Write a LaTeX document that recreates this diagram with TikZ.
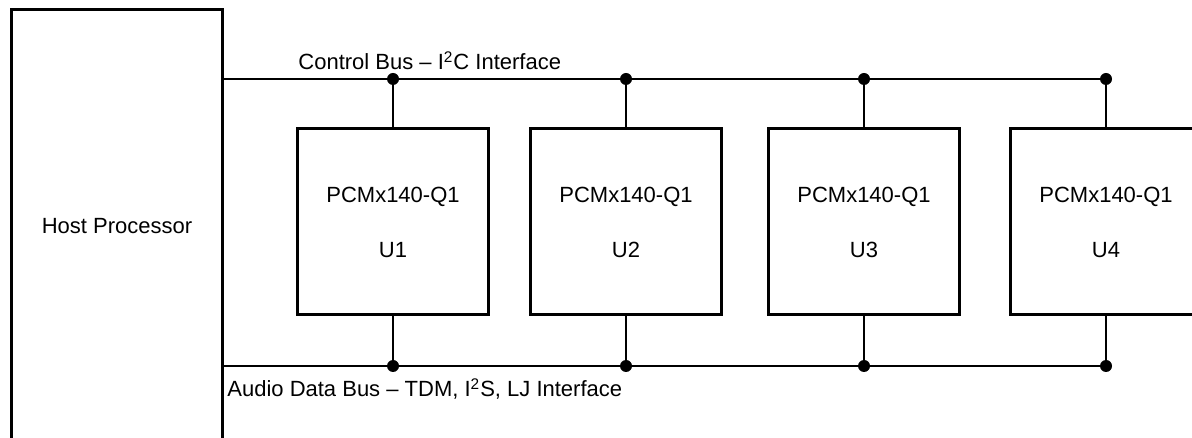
\documentclass[tikz,border=0pt]{standalone}
\usepackage{fontspec}
\setmainfont{Liberation Sans}
\usetikzlibrary{positioning}
\begin{document}
\begin{tikzpicture}[x=0.5pt,y=0.5pt,
    every node/.style={font=\fontsize{11}{27.5}\selectfont},
    box/.style={draw,line width=1.5pt,inner sep=0pt,align=center},
    device/.style={box,minimum width=95.5pt,minimum height=93pt},
    bus/.style={line width=1.4pt},
    tap/.style={circle,fill,inner sep=0pt,minimum size=6pt}]
  \useasboundingbox (0,0) rectangle (1192,438);
  % host side, runs off the bottom edge
  \node[box,minimum width=105.5pt,minimum height=217pt,anchor=north west] (host) at (10,430) {Host Processor};
  % the four devices with their taps on both buses
  \foreach \i/\x in {1/393,2/626,3/864,4/1106} {
    \node[device] (u\i) at (\x,216) {PCMx140-Q1\\U\i};
    \node[tap] (cb\i) at (\x,359) {};
    \node[tap] (ab\i) at (\x,72) {};
  }
  \draw[bus] (host.east |- cb1) -- (cb4.center);
  \draw[bus] (host.east |- ab1) -- (ab4.center);
  \foreach \i in {1,...,4} {
    \draw[bus] (u\i.north) -- (cb\i.center);
    \draw[bus] (u\i.south) -- (ab\i.center);
  }
  % bus names
  \node[anchor=base west,inner sep=0pt] (cblabel) at (298,368) {Control Bus – I\textsuperscript{2}C Interface};
  \node[anchor=base west,inner sep=0pt] (ablabel) at (227,41) {Audio Data Bus – TDM, I\textsuperscript{2}S, LJ Interface};
\end{tikzpicture}
\end{document}
